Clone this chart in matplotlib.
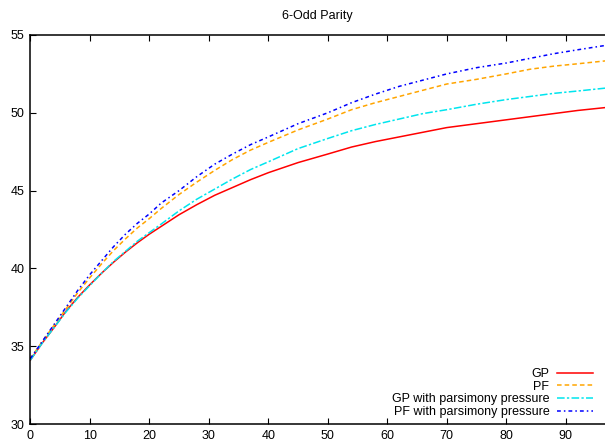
import matplotlib
matplotlib.use("Agg")
import matplotlib.pyplot as plt

generations = [0, 2, 4, 6, 8, 10, 12, 14, 16, 18, 20, 22, 25, 28, 31, 34, 37, 40,
               45, 50, 54, 58, 62, 66, 70, 75, 80, 84, 88, 92, 97]

gp = [34.1, 35.2, 36.2, 37.25, 38.15, 38.95, 39.7, 40.4, 41.05, 41.65, 42.2, 42.7,
      43.45, 44.1, 44.7, 45.2, 45.7, 46.15, 46.8, 47.35, 47.8, 48.15, 48.45, 48.75,
      49.05, 49.3, 49.55, 49.75, 49.95, 50.15, 50.35]

pf = [34.2, 35.3, 36.35, 37.4, 38.45, 39.4, 40.3, 41.15, 41.9, 42.6, 43.2, 43.85,
      44.75, 45.55, 46.3, 47.0, 47.6, 48.1, 48.9, 49.6, 50.2, 50.65, 51.05, 51.45,
      51.85, 52.15, 52.5, 52.8, 53.0, 53.15, 53.35]

gp_pars = [34.1, 35.2, 36.2, 37.2, 38.1, 38.9, 39.7, 40.45, 41.1, 41.75, 42.3, 42.85,
           43.7, 44.45, 45.1, 45.75, 46.35, 46.85, 47.7, 48.35, 48.85, 49.25, 49.6, 49.95,
           50.2, 50.55, 50.85, 51.05, 51.25, 51.4, 51.6]

pf_pars = [34.2, 35.3, 36.4, 37.5, 38.6, 39.6, 40.5, 41.4, 42.2, 42.9, 43.5, 44.2,
           45.0, 45.9, 46.7, 47.35, 47.95, 48.45, 49.3, 50.0, 50.65, 51.2, 51.7, 52.1,
           52.5, 52.9, 53.2, 53.5, 53.8, 54.05, 54.35]

labels = ["GP", "PF", "GP with parsimony pressure", "PF with parsimony pressure"]
title = "6-Odd Parity"
xticks = [0, 10, 20, 30, 40, 50, 60, 70, 80, 90]
yticks = [30, 35, 40, 45, 50, 55]

plt.rcParams['font.family'] = ['Liberation Sans', 'DejaVu Sans']

fig = plt.figure(figsize=(6.05, 4.44), dpi=100)
ax = fig.add_axes([30.3 / 605, 20 / 444, 595 / 605, 389 / 444])

ax.plot(generations, gp, color='#ff0000', lw=1.1, label=labels[0])
ax.plot(generations, pf, color='#ffa500', lw=1.1, dashes=(3, 2), label=labels[1])
ax.plot(generations, gp_pars, color='#00e5ee', lw=1.1, dashes=(5, 1.5, 1.5, 1.5), label=labels[2])
ax.plot(generations, pf_pars, color='#0000ff', lw=1.1, dashes=(2.5, 2, 1, 2), label=labels[3])

ax.set_xlim(0, 100)
ax.set_ylim(30, 55)
ax.set_xticks(xticks)
ax.set_yticks(yticks)
ax.tick_params(direction='in', length=4, width=0.8, labelsize=9, top=True, right=True,
               pad=4)
for s in ax.spines.values():
    s.set_linewidth(1.1)

fig.text(317 / 605, 1 - 16 / 444, title, ha='center', va='center', fontsize=9)

leg = ax.legend(loc='lower right', bbox_to_anchor=(592.5 / 605, 26 / 444),
                bbox_transform=fig.transFigure, frameon=False, markerfirst=False,
                fontsize=9, handlelength=2.85, handletextpad=0.61, labelspacing=0.05,
                borderpad=0, borderaxespad=0)

fig.savefig("out.png", dpi=100)
